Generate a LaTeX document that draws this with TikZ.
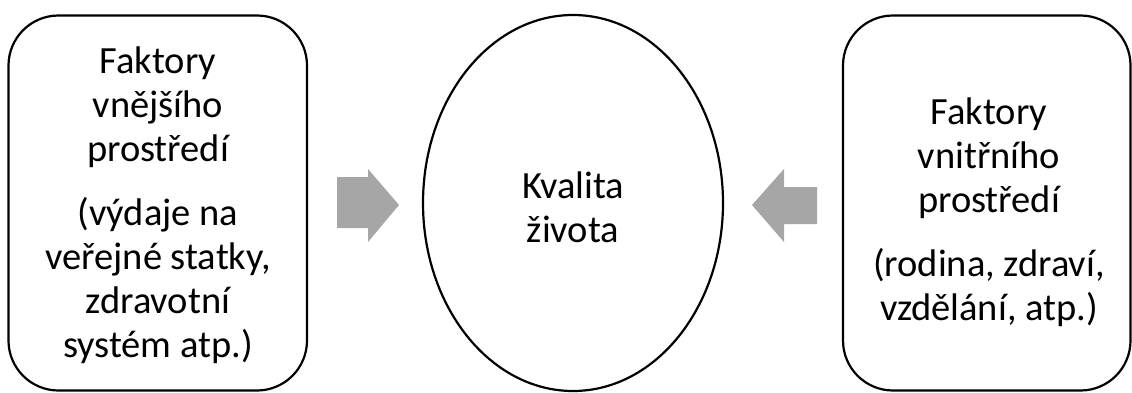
\documentclass[tikz,border=0pt]{standalone}
\usepackage{fontspec}
\usetikzlibrary{shapes.geometric}
\setmainfont{Carlito}
\definecolor{arrowgray}{HTML}{A6A6A6}
\tikzset{
  box/.style={draw=black, line width=2.2pt, rounded corners=50pt, fill=white},
  oval/.style={draw=black, line width=2.2pt, ellipse, inner sep=0pt, fill=white},
  txt/.style={align=center, inner sep=0pt, font=\fontsize{38.5}{44}\selectfont},
  blockarrow/.style={fill=arrowgray, draw=none},
}
\begin{document}
\begin{tikzpicture}[x=1pt,y=-1pt]
\useasboundingbox (0,0) rectangle (1132,392);
% boxes
\draw[box] (8.5,15.5) rectangle (307,390.5);
\draw[box] (843,15.5) rectangle (1130.5,390.5);
\node[oval, minimum width=300pt, minimum height=376pt] (ell) at (573,203) {};
% texts
\node[txt] (left) at (158,205) {Faktory\\vnějšího\\prostředí\\[20pt](výdaje na\\veřejné statky,\\zdravotní\\systém atp.)};
\node[txt] (right) at (989,212) {Faktory\\vnitřního\\prostředí\\[20pt](rodina, zdraví,\\vzdělání, atp.)};
\node[txt] (mid) at (573,207) {Kvalita\\života};
% block arrows
\fill[blockarrow] (337,177) -- (368,177) -- (368,169) -- (399,205) -- (368,242) -- (368,228) -- (337,228) -- cycle;
\fill[blockarrow] (817,187) -- (784,187) -- (784,169) -- (752,205) -- (784,242) -- (784,224) -- (817,224) -- cycle;
\end{tikzpicture}
\end{document}
